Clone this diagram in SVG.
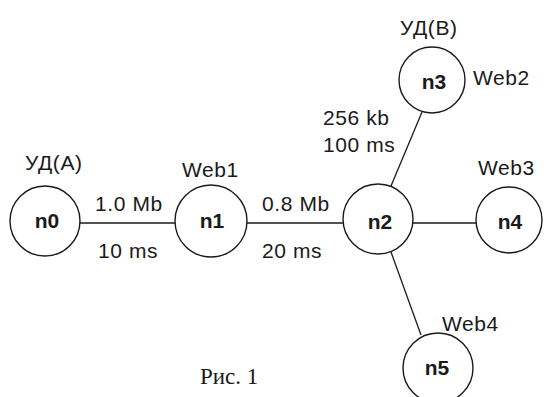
<svg xmlns="http://www.w3.org/2000/svg" width="550" height="397" viewBox="0 0 550 397">
<style>
.node circle{fill:none;stroke:#1a1a1a;stroke-width:1.4}
.nl{font-family:"Liberation Sans",Arial,sans-serif;font-weight:bold;font-size:21px;fill:#1a1a1a;text-anchor:middle}
.lbl{font-family:"Liberation Sans",Arial,sans-serif;font-size:21px;fill:#1a1a1a;letter-spacing:0.6px}
.edges line{stroke:#1a1a1a;stroke-width:1.3}
.cap{font-family:"Liberation Serif","Times New Roman",serif;font-size:23px;fill:#1a1a1a}
</style>
<rect width="550" height="397" fill="#ffffff"/>
<g class="edges">
<line x1="80" y1="223" x2="175" y2="223"/>
<line x1="247" y1="223" x2="343" y2="223"/>
<line x1="413" y1="223" x2="476" y2="223"/>
<line x1="391" y1="186" x2="422" y2="112"/>
<line x1="391" y1="252" x2="421" y2="335"/>
</g>
<g id="n0" class="node"><circle cx="45" cy="221" r="35"/><text class="nl" x="47" y="228">n0</text></g>
<g id="n1" class="node"><circle cx="211" cy="221" r="36"/><text class="nl" x="212" y="228">n1</text></g>
<g id="n2" class="node"><circle cx="378" cy="219" r="35"/><text class="nl" x="380" y="229">n2</text></g>
<g id="n3" class="node"><circle cx="432" cy="80" r="33"/><text class="nl" x="434" y="89">n3</text></g>
<g id="n4" class="node"><circle cx="509" cy="220" r="33"/><text class="nl" x="510" y="229">n4</text></g>
<g id="n5" class="node"><circle cx="438" cy="368" r="35"/><text class="nl" x="437" y="375">n5</text></g>
<g id="labels">
<text class="lbl" x="25" y="170">УД(A)</text>
<text class="lbl" x="182" y="177">Web1</text>
<text class="lbl" x="95" y="211">1.0 Mb</text>
<text class="lbl" x="98" y="258">10 ms</text>
<text class="lbl" x="262" y="211">0.8 Mb</text>
<text class="lbl" x="262" y="258">20 ms</text>
<text class="lbl" x="400" y="35">УД(B)</text>
<text class="lbl" x="473" y="85">Web2</text>
<text class="lbl" x="323" y="125">256 kb</text>
<text class="lbl" x="323" y="152">100 ms</text>
<text class="lbl" x="478" y="175">Web3</text>
<text class="lbl" x="442" y="331">Web4</text>
<text class="cap" x="200" y="384">Рис. 1</text>
</g>
</svg>
